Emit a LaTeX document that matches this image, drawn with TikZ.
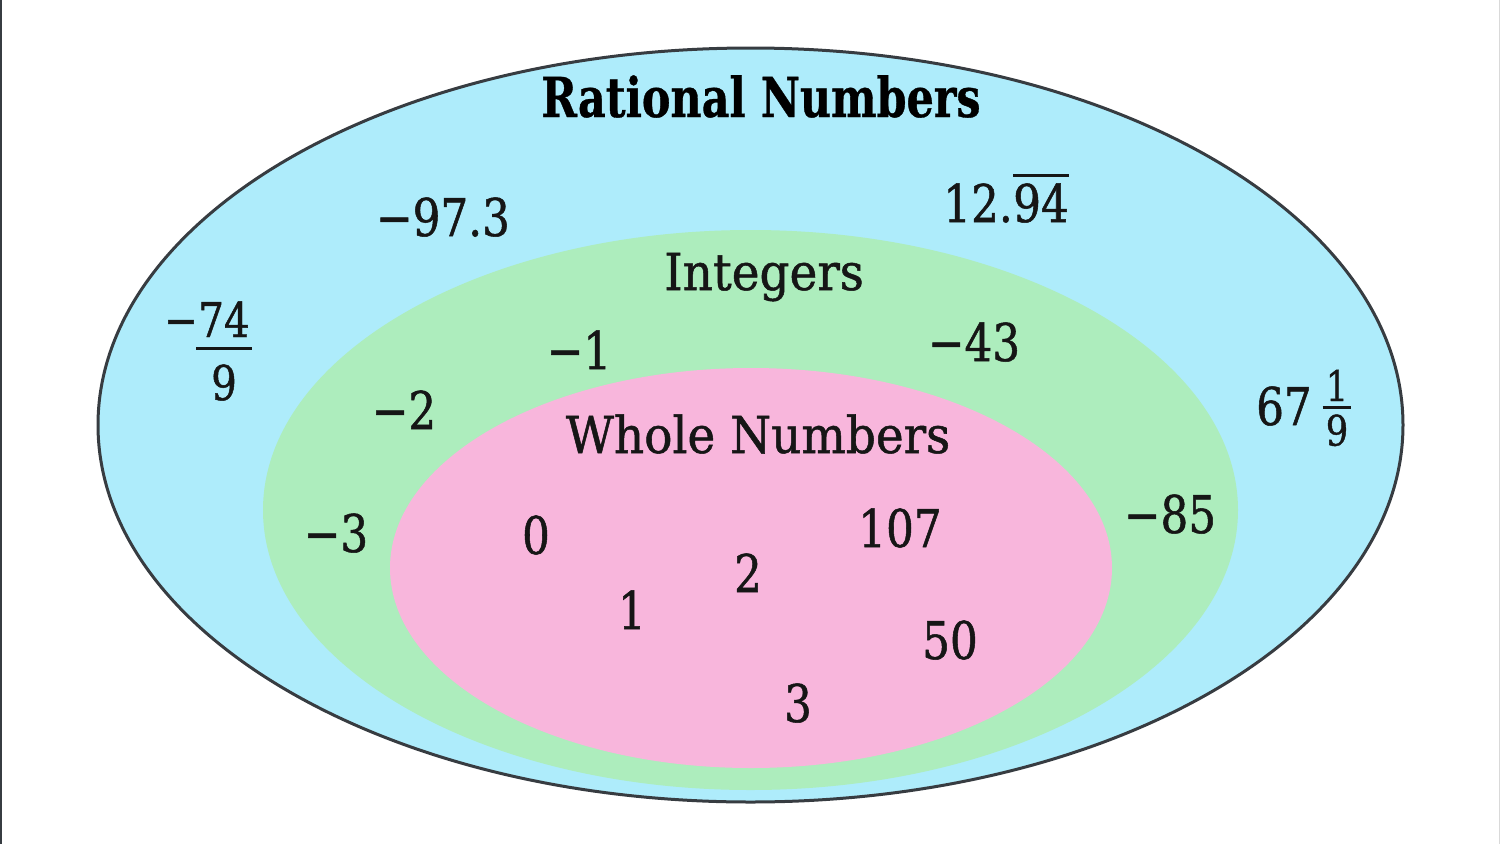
\documentclass[tikz,border=0pt]{standalone}
\usepackage{fontspec}
\setmainfont{DejaVu Serif}[FakeStretch=0.84,FakeBold=1]
\newfontfamily\titlefont{DejaVu Serif}[FakeStretch=0.78,FakeBold=0.6]
\newfontfamily\setfont{DejaVu Serif}[FakeStretch=0.92,FakeBold=1]
\usetikzlibrary{positioning}
\definecolor{ratblue}{RGB}{174,236,251}
\definecolor{intgreen}{RGB}{173,237,189}
\definecolor{wholepink}{RGB}{248,182,220}
\definecolor{rimgray}{RGB}{55,60,65}
\definecolor{inkblack}{RGB}{22,22,22}
\begin{document}
\begin{tikzpicture}[x=1pt,y=1pt,yscale=-1,xscale=1,
	num/.style={inner sep=0pt,text=inkblack,font=\fontsize{52}{60}\selectfont},
	fracbig/.style={inner sep=0pt,text=inkblack,font=\fontsize{48}{56}\selectfont},
	fracsmall/.style={inner sep=0pt,text=inkblack,font=\fontsize{42}{48}\selectfont},
	setname/.style={inner sep=0pt,text=inkblack,font=\setfont\fontsize{51}{60}\selectfont},
	bar/.style={line width=3pt,inkblack}]
	\useasboundingbox (0,0) rectangle (1500,844);
	%Frame edges
	\draw [line width=2pt,rimgray] (1,0) -- (1,844);
	\draw [line width=1pt,black!15] (1499,0) -- (1499,844);
	%Ellipse rational
	\draw [fill=ratblue,draw=rimgray,line width=3pt] (750.5,425) ellipse [x radius=652.5,y radius=377];
	%Ellipse integers
	\fill [intgreen] (750.5,510) ellipse [x radius=487.5,y radius=280];
	%Ellipse whole
	\fill [wholepink] (751,568) ellipse [x radius=361,y radius=200];
	
	\node [anchor=base,inner sep=0pt,text=black,font=\titlefont\bfseries\fontsize{55}{64}\selectfont] (rational) at (761,117) {Rational Numbers};
	\node [setname,anchor=base] (integers) at (764,290) {Integers};
	\node [setname,anchor=base] (whole) at (758,453) {Whole Numbers};
	
	%Rational only
	\node [num,anchor=base] (r973) at (443,236) {−97.3};
	\node [num,anchor=base] (r94) at (1041,222) {94};
	\node [num,anchor=base east] (r12) at (r94.base west) {12.};
	\coordinate (ol94) at (0,175);
	\draw [bar] (r94.west |- ol94) -- (r94.east |- ol94);
	
	\node [fracbig,anchor=base] (r74) at (224,337) {74};
	\node [fracbig,anchor=base east] (m74) at (r74.base west) {−};
	\node [fracbig,below=27pt of r74] (d74) {9};
	\coordinate (bar74) at (0,348);
	\draw [bar] ([xshift=-2pt]r74.west |- bar74) -- ([xshift=2pt]r74.east |- bar74);
	
	\node [num,anchor=base] (r67) at (1284,425) {67};
	\node [fracsmall,anchor=base] (n67) at (1337,401) {1};
	\node [fracsmall,below=13pt of n67] (d67) {9};
	\coordinate (bar67) at (0,407);
	\draw [bar] ([xshift=-3pt]d67.west |- bar67) -- ([xshift=3pt]d67.east |- bar67);
	
	%Integers only
	\node [num,anchor=base] (im1) at (579,369) {−1};
	\node [num,anchor=base] (im43) at (974,361) {−43};
	\node [num,anchor=base] (im2) at (404,429) {−2};
	\node [num,anchor=base] (im3) at (336,552) {−3};
	\node [num,anchor=base] (im85) at (1170,533) {−85};
	
	%Whole numbers
	\node [num,anchor=base] (w0) at (536,554) {0};
	\node [num,anchor=base] (w1) at (632,629) {1};
	\node [num,anchor=base] (w2) at (748,592) {2};
	\node [num,anchor=base] (w107) at (900,547) {107};
	\node [num,anchor=base] (w50) at (950,659) {50};
	\node [num,anchor=base] (w3) at (798,722) {3};
\end{tikzpicture}
\end{document}
